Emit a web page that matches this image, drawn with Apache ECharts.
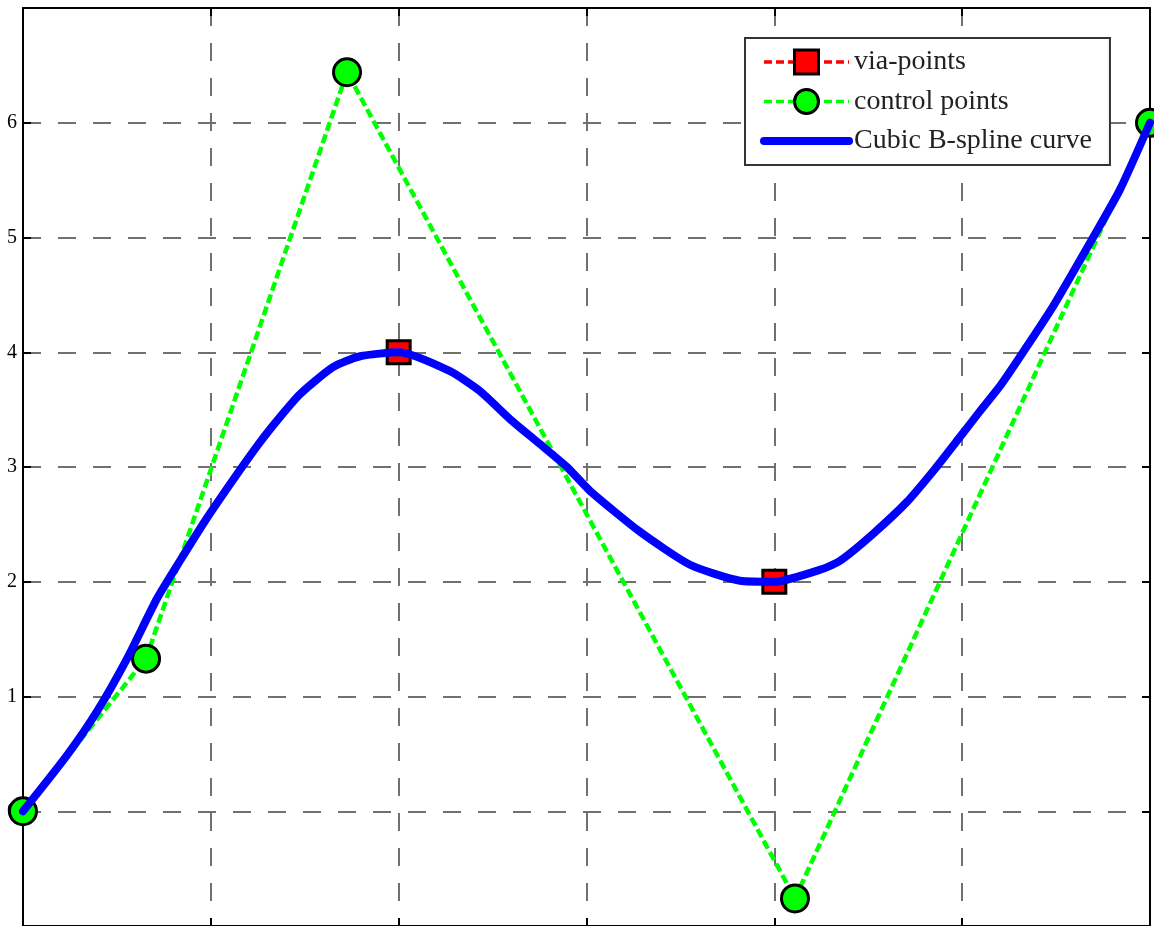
<!DOCTYPE html>
<html>
<head>
<meta charset="utf-8">
<script src="https://cdn.jsdelivr.net/npm/echarts@6/dist/echarts.min.js"></script>
<style>
  html, body { margin: 0; padding: 0; background: #fff; }
  #chart { width: 1154px; height: 926px; }
</style>
</head>
<body>
<div id="chart"></div>
<script>
// ---- data ----
const legendNames = ['via-points', 'control points', 'Cubic B-spline curve'];

const viaX = [2, 4];
const viaY = [4, 2];

const ctrlX = [0, 0.655, 1.725, 4.11, 6];
const ctrlY = [0, 1.33, 6.44, -0.76, 6];

const curveX = [0, 0.234, 0.394, 0.554, 0.713, 0.836, 0.969, 1.129, 1.262, 1.368, 1.475, 1.650, 1.794, 2.0,
                2.273, 2.433, 2.593, 2.752, 2.896, 3.019, 3.285, 3.551, 3.817, 4.0,
                4.259, 4.350, 4.525, 4.706, 4.855, 4.988, 5.095, 5.201, 5.324, 5.484, 5.697, 5.840, 6.0];
const curveY = [0, 0.487, 0.870, 1.330, 1.852, 2.183, 2.530, 2.913, 3.217, 3.435, 3.635, 3.870, 3.965, 4.0,
                3.835, 3.661, 3.417, 3.200, 3.0, 2.791, 2.435, 2.148, 2.009, 2.0,
                2.113, 2.183, 2.417, 2.696, 2.983, 3.261, 3.487, 3.704, 4.0, 4.4, 5.0, 5.417, 6.0];

const xTicks = [0, 6, 1];   // min, max, interval
const yTicks = [-1, 7, 1];  // min, max, interval

const zip = (xs, ys) => xs.map((x, i) => [x, ys[i]]);

const chart = echarts.init(document.getElementById('chart'), null, { renderer: 'canvas' });

const serif = 'Liberation Serif, Times New Roman, serif';
const axisLineStyle = { color: '#000', width: 2 };
const gridLineStyle = { color: '#707070', width: 2, type: [18, 17] };

const option = {
  animation: false,
  backgroundColor: '#fff',
  grid: { left: 23, right: 4, top: 8, bottom: -2, containLabel: false },
  xAxis: [
    {
      type: 'value', min: xTicks[0], max: xTicks[1], interval: xTicks[2], position: 'bottom',
      axisLine: { show: true, onZero: false, lineStyle: axisLineStyle },
      axisTick: { show: true, inside: true, length: 8, lineStyle: axisLineStyle },
      axisLabel: { show: false },
      splitLine: { show: true, lineStyle: gridLineStyle }
    },
    {
      type: 'value', min: xTicks[0], max: xTicks[1], interval: xTicks[2], position: 'top',
      axisLine: { show: true, onZero: false, lineStyle: axisLineStyle },
      axisTick: { show: true, inside: true, length: 8, lineStyle: axisLineStyle },
      axisLabel: { show: false },
      splitLine: { show: false }
    }
  ],
  yAxis: [
    {
      type: 'value', min: yTicks[0], max: yTicks[1], interval: yTicks[2], position: 'left',
      axisLine: { show: true, onZero: false, lineStyle: axisLineStyle },
      axisTick: { show: true, inside: true, length: 8, lineStyle: axisLineStyle },
      axisLabel: { show: true, margin: 6, color: '#000', fontFamily: serif, fontSize: 20,
                   showMinLabel: false, showMaxLabel: false },
      splitLine: { show: true, lineStyle: gridLineStyle }
    },
    {
      type: 'value', min: yTicks[0], max: yTicks[1], interval: yTicks[2], position: 'right',
      axisLine: { show: true, onZero: false, lineStyle: axisLineStyle },
      axisTick: { show: true, inside: true, length: 8, lineStyle: axisLineStyle },
      axisLabel: { show: false },
      splitLine: { show: false }
    }
  ],
  legend: {
    orient: 'vertical',
    left: 745, top: 38,
    padding: [10, 18, 10, 15],
    itemGap: 11.5,
    itemWidth: 85,
    itemHeight: 30,
    backgroundColor: '#fff',
    borderColor: '#333',
    borderWidth: 2,
    borderRadius: 0,
    selectedMode: false,
    z: 10,
    textStyle: { fontFamily: serif, fontSize: 28, color: '#222' },
    data: [
      { name: legendNames[0],
        lineStyle: { color: '#ff0000', width: 3.5, type: [8, 4], opacity: 1 },
        itemStyle: { color: '#ff0000', borderColor: '#000', borderWidth: 3, opacity: 1 } },
      { name: legendNames[1],
        lineStyle: { color: '#00ff00', width: 3.5, type: [8, 4], opacity: 1 },
        itemStyle: { color: '#00ff00', borderColor: '#000', borderWidth: 3, opacity: 1 } },
      { name: legendNames[2],
        lineStyle: { color: '#0000ff', width: 8, type: 'solid', opacity: 1 },
        itemStyle: { opacity: 0 } }
    ]
  },
  series: [
    {
      name: legendNames[0], type: 'line', z: 2, clip: false,
      data: zip(viaX, viaY),
      symbol: 'rect', symbolSize: 23,
      itemStyle: { color: '#ff0000', borderColor: '#000', borderWidth: 3 },
      lineStyle: { color: '#ff0000', width: 0, opacity: 0, type: [8, 4] }
    },
    {
      name: legendNames[1], type: 'line', z: 3, clip: false,
      data: zip(ctrlX, ctrlY),
      symbol: 'circle', symbolSize: 27,
      itemStyle: { color: '#00ff00', borderColor: '#000', borderWidth: 3 },
      lineStyle: { color: '#00ff00', width: 4.5, type: [9, 4] }
    },
    {
      name: legendNames[2], type: 'line', z: 4, clip: false,
      data: zip(curveX, curveY),
      symbol: 'none', smooth: 0.2,
      lineStyle: { color: '#0000ff', width: 8, cap: 'round', join: 'round' }
    }
  ]
};

chart.setOption(option);
</script>
</body>
</html>
